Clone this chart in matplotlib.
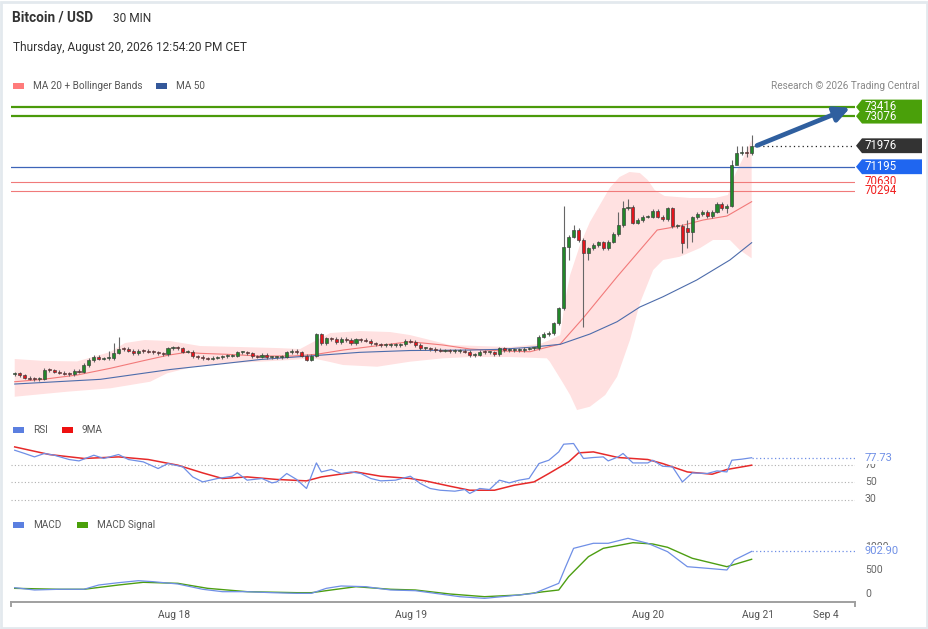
import matplotlib
matplotlib.use("Agg")
import matplotlib.pyplot as plt
import numpy as np
from matplotlib.patches import Rectangle, Polygon
from matplotlib.transforms import blended_transform_factory

plt.rcParams['font.family'] = ['Roboto', 'DejaVu Sans']

# ---------------- data ----------------
closes = [63517, 63443, 63354, 63317, 63294, 63317, 63640, 63629, 63577, 63540,
          63502, 63480, 63603, 63577, 63826, 64012, 64134, 64060, 64075, 64075,
          64283, 64432, 64421, 64357, 64261, 64357, 64346, 64320, 64298, 64261,
          64235, 64447, 64469, 64447, 64320, 64320, 64149, 64123, 64075, 64060,
          64097, 64112, 64149, 64172, 64172, 64298, 64298, 64261, 64149, 64134,
          64198, 64112, 64112, 64112, 64134, 64298, 64346, 64298, 64172, 64023,
          64172, 64967, 64633, 64818, 64792, 64670, 64792, 64755, 64644, 64781,
          64755, 64729, 64633, 64595, 64569, 64569, 64569, 64569, 64595, 64718,
          64692, 64569, 64447, 64447, 64421, 64383, 64357, 64357, 64346, 64346,
          64346, 64320, 64198, 64209, 64320, 64298, 64298, 64224, 64447, 64383,
          64383, 64383, 64383, 64432, 64447, 64447, 64878, 64978, 65020, 65376,
          65933, 68201, 68595, 68844, 68472, 67978, 68164, 68286, 68387, 68164,
          68409, 68695, 69030, 69651, 69710, 69115, 69216, 69338, 69338, 69561,
          69338, 69242, 69651, 68993, 68993, 68349, 68781, 69316, 69439, 69524,
          69364, 69524, 69810, 69651, 69747, 71260, 71695, 71754, 71706, 71976]
first_open = 63480
open_overrides = {136: 68907}
wick_high = {19: 64361, 20: 64640, 21: 64850, 111: 69747, 113: 69030, 122: 69524,
             123: 69936, 124: 69985, 136: 69216, 145: 71450, 146: 71980,
             147: 71980, 148: 71980, 149: 72375}
wick_low = {112: 67730, 115: 65250, 116: 67729, 135: 67978, 136: 68178,
            137: 68386, 144: 69465, 146: 71447, 148: 71569, 149: 71632}
default_wick = 60

ma20_idx = [0, 5.7, 12.6, 19.3, 26, 31.2, 34.8, 37.5, 42.9, 49.6, 56.3, 61.1, 66.4,
            73.3, 79.9, 86.6, 92.1, 98.7, 104.2, 106.8, 110.3, 114.9, 121.8, 129.9,
            134.5, 139.2, 144.0, 149]
ma20_val = [63205, 63294, 63454, 63703, 63986, 64198, 64298, 64261, 64224, 64161,
            64161, 64227, 64383, 64543, 64692, 64569, 64421, 64346, 64320, 64447,
            64607, 65562, 67108, 68844, 68993, 69216, 69364, 69896]

upper_idx = [0, 5.7, 12.6, 19.3, 22.3, 26.3, 31.4, 37.5, 45.6, 53.0, 57.7, 61.1, 63.8,
             69.8, 75.9, 79.9, 84.0, 88.0, 94.1, 100.1, 106.2, 108.2, 110.3, 111.3,
             112.3, 114.3, 116.3, 118.3, 120.3, 122.3, 124.3, 126.4, 128, 129.4,
             131.4, 136.5, 141.6, 144.2, 145.6, 147.6, 149]
upper_val = [64050, 63980, 63960, 64309, 64644, 64755, 64718, 64532, 64495, 64458,
             64421, 64755, 65015, 65090, 65052, 64941, 64755, 64569, 64532, 64495,
             64607, 64755, 64940, 66242, 67171, 68286, 69141, 69773, 70405, 70814,
             71000, 70963, 70702, 70331, 70108, 70034, 70034, 70145, 70889, 71633,
             72190]

lower_idx = [0, 10.6, 19.3, 27.4, 30.8, 36.1, 43.5, 49.6, 55.7, 60.3, 63.8, 66.4, 73.3,
             79.9, 86.6, 92.1, 100.1, 107.6, 108.2, 110.9, 112.3, 113.7, 116.3, 119.4,
             121.8, 124.4, 126.4, 129.1, 131.1, 134.5, 138.6, 141.2, 144.6, 146.6, 149]
lower_val = [62648, 62834, 62960, 63205, 63517, 63763, 63900, 63949, 64012, 64075,
             63938, 63826, 63763, 63949, 64075, 64123, 64123, 64075, 63949, 63146,
             62711, 62153, 62276, 62711, 63391, 64755, 66119, 67357, 67729, 67852,
             68176, 68474, 68474, 68102, 67793]

ma50_idx = [0, 17.3, 31.4, 41.5, 49.6, 60.3, 69.8, 79.9, 92.1, 98.1, 104.2, 110.3,
            116.3, 121.8, 126.4, 131.1, 137.9, 144.6, 149]
ma50_val = [63120, 63294, 63659, 63863, 64030, 64172, 64298, 64365, 64383, 64409,
            64484, 64595, 64978, 65436, 65982, 66365, 66986, 67729, 68372]

levels_green = [73416, 73076]
level_blue = 71195
levels_red = [70630, 70294]
last_price = 71976

rsi_idx = [0, 2, 4, 6, 8, 11, 13, 16, 18, 21, 23, 26, 29, 31, 34, 36, 38, 41, 44, 45,
           47, 50, 52, 53, 55, 57, 59, 61, 62, 64, 66, 68, 70, 72, 74, 77, 80, 82, 84,
           86, 89, 91, 92, 94, 96, 98, 100, 102, 104, 106, 108, 110, 111, 113, 115,
           117, 119, 120, 122, 123, 125, 128, 129, 131, 133, 135, 137, 140, 142, 144,
           145, 147, 149]
rsi_val = [86.3, 82.6, 78.7, 82.6, 80.6, 75.7, 74.1, 80.6, 76.9, 81.4, 75.7, 73.0,
           65.4, 71.1, 67.3, 55.8, 50.1, 54.0, 56.6, 60.4, 52.1, 54.0, 49.0, 50.1,
           59.7, 52.9, 42.6, 71.8, 61.5, 64.3, 59.7, 61.5, 59.7, 54.0, 51.3, 52.1,
           56.6, 48.3, 42.6, 40.6, 39.5, 41.4, 36.9, 42.6, 41.4, 52.1, 49.0, 52.1,
           54.0, 71.1, 74.9, 84.4, 93.2, 94.0, 76.9, 78.0, 78.7, 74.1, 78.7, 82.6,
           71.8, 71.8, 74.9, 68.0, 67.3, 50.1, 60.4, 59.7, 62.7, 61.5, 74.9, 76.1,
           77.73]
rsi_ma_idx = [0, 7, 14, 21, 27, 33, 38, 42, 47, 53, 59, 62, 69, 74, 80, 83, 88, 92, 97,
              101, 105, 108, 112, 114, 117, 122, 128, 131, 136, 141, 144, 149]
rsi_ma_val = [90.1, 81.4, 76.9, 78.7, 75.7, 69.2, 60.4, 54.0, 55.8, 52.9, 51.3, 55.8,
              61.5, 56.6, 54.0, 51.3, 45.2, 40.6, 40.6, 46.3, 50.1, 59.7, 73.0, 83.3,
              84.4, 78.0, 75.7, 71.1, 61.5, 58.9, 64.3, 69.2]
rsi_levels = [70, 50, 30]

macd_idx = [0, 4, 9, 14, 17, 21, 25, 28, 33, 38, 42, 47, 52, 57, 60, 63, 66, 71, 76,
            81, 86, 90, 95, 100, 105, 110, 111.4, 113, 117, 120, 124, 128, 132, 136,
            140, 144, 145.5, 149]
macd_val = [134, 85, 100, 100, 191, 240, 282, 261, 212, 100, 49, 49, 28, 14, 14, 120,
            170, 155, 85, 70, 0, -57, -92, -42, 14, 226, 579, 968, 1075, 1075, 1181,
            1075, 897, 579, 545, 509, 721, 902.90]
sig_idx = [0, 9, 14, 21, 26, 33, 39, 47, 57, 60, 64, 69, 76, 81, 88, 95, 102, 107, 110,
           112, 116, 119, 125, 129, 132, 137, 144, 149]
sig_val = [120, 100, 100, 191, 248, 226, 120, 49, 28, 28, 85, 155, 100, 85, 0, -57, -21,
           49, 85, 367, 791, 968, 1088, 1060, 990, 757, 579, 736]
macd_ticks = [1000, 500, 0]

tick_pos = [32.2, 80.1, 128.0, 150.3, 164.0]
tick_labels = ['Aug 18', 'Aug 19', 'Aug 20', 'Aug 21', 'Sep 4']

# ---------------- layout ----------------
W, H = 929, 629
fig = plt.figure(figsize=(W / 100, H / 100), dpi=100)
fig.patch.set_facecolor('white')

AX_L, AX_R = 10.7, 855.0
XLIM = (-0.81, 169.9)


def add_px_axes(top, bottom):
    return fig.add_axes([AX_L / W, 1 - bottom / H, (AX_R - AX_L) / W, (bottom - top) / H])


def fx(px):
    return px / W


def fy(py):
    return 1 - py / H


def axfrac(px):
    return (px - AX_L) / (AX_R - AX_L)


def clean(ax):
    for s in ax.spines.values():
        s.set_visible(False)
    ax.set_xticks([])
    ax.set_yticks([])
    ax.set_xlim(*XLIM)
    ax.patch.set_alpha(0)


# frame
fig.add_artist(Rectangle((0.001, 0.001), 0.997, 0.996, transform=fig.transFigure,
                         fill=False, edgecolor='#e3e9ee', lw=2))

# header texts
fig.text(fx(12), fy(18), 'Bitcoin / USD', fontsize=9.8, fontweight='bold', color='#333333',
         va='center', ha='left')
fig.text(fx(113), fy(18), '30 MIN', fontsize=8.6, color='#333333', va='center', ha='left')
fig.text(fx(13), fy(48), 'Thursday, August 20, 2026 12:54:20 PM CET', fontsize=8.6,
         color='#333333', va='center', ha='left')


def legend_item(x0, y, color, label, w=11, h=6):
    fig.add_artist(Rectangle((fx(x0), fy(y + h / 2)), w / W, h / H, transform=fig.transFigure,
                             facecolor=color, edgecolor='none'))
    fig.text(fx(x0 + w + 9), fy(y), label, fontsize=7.2, color='#555555', va='center',
             ha='left')


legend_item(13, 86, '#ff7b7b', 'MA 20 + Bollinger Bands')
legend_item(156, 86, '#34589a', 'MA 50')
fig.text(fx(920), fy(86), 'Research \u00a9 2026 Trading Central', fontsize=7.2,
         color='#888888', va='center', ha='right')

# ---------------- main price pane ----------------
ax = add_px_axes(98, 415)
clean(ax)
slope = (73416 - 70294) / (191 - 107)
ax.set_ylim(73416 - slope * (415 - 107), 73416 - slope * (98 - 107))

ax.fill(np.concatenate([upper_idx, lower_idx[::-1]]),
        np.concatenate([upper_val, lower_val[::-1]]),
        color='#ffe1e1', lw=0, zorder=1)
ax.plot(ma20_idx, ma20_val, color='#f27a7a', lw=0.8, zorder=2)
ax.plot(ma50_idx, ma50_val, color='#4d6cab', lw=0.8, zorder=2)

for lv in levels_green:
    ax.axhline(lv, color='#4a9a0a', lw=1.6, zorder=3)
ax.axhline(level_blue, color='#3d64b8', lw=0.9, zorder=3)
for lv in levels_red:
    ax.axhline(lv, color='#f07a7a', lw=0.8, zorder=3)

n = len(closes)
idx = np.arange(n)
opens = [first_open] + closes[:-1]
opens = [open_overrides.get(i, o) for i, o in enumerate(opens)]
highs = [wick_high.get(i, max(o, c) + default_wick) for i, (o, c) in enumerate(zip(opens, closes))]
lows = [wick_low.get(i, min(o, c) - default_wick) for i, (o, c) in enumerate(zip(opens, closes))]
up = [c >= o for o, c in zip(opens, closes)]
ax.vlines(idx, lows, highs, color='#666666', lw=0.8, zorder=4)
bottoms = [min(o, c) for o, c in zip(opens, closes)]
heights = [max(abs(c - o), 35) for o, c in zip(opens, closes)]
colors = ['#22872a' if u else '#e3141c' for u in up]
ax.bar(idx, heights, bottom=bottoms, width=0.62, color=colors, edgecolor='#3c3c3c',
       linewidth=0.45, zorder=5)

# dotted line from last candle to the label
ax.plot([n - 0.5, XLIM[1]], [last_price, last_price], color='#222222', lw=0.9,
        ls=(0, (1, 2.5)), zorder=3)

# trend arrow
ax.annotate('', xy=(168.9, levels_green[0] - 30), xytext=(n + 0.1, last_price + 10),
            arrowprops=dict(arrowstyle='-|>,head_length=0.9,head_width=0.45',
                            color='#2f5f9f', lw=3.4, shrinkA=0, shrinkB=0), zorder=6)

# right-hand tags
tr = blended_transform_factory(ax.transAxes, ax.transData)
hh = 7.4 * slope


def tag(y, text, color):
    pts = [(axfrac(856), y), (axfrac(862), y + hh), (axfrac(922), y + hh),
           (axfrac(922), y - hh), (axfrac(862), y - hh)]
    ax.add_patch(Polygon(pts, closed=True, transform=tr, facecolor=color, edgecolor='none',
                         clip_on=False, zorder=7))
    ax.text(axfrac(865), y, text, transform=tr, color='white', fontsize=8.3, va='center',
            ha='left', clip_on=False, zorder=8)


tag(levels_green[1], str(levels_green[1]), '#4aa00a')
tag(levels_green[0], str(levels_green[0]), '#4aa00a')
tag(last_price, str(last_price), '#333333')
tag(level_blue, str(level_blue), '#1f66f0')
for lv in levels_red:
    ax.text(axfrac(865), lv, str(lv), transform=tr, color='#f02020', fontsize=8.3,
            va='center', ha='left', clip_on=False, zorder=8,
            bbox=dict(boxstyle='square,pad=0.05', facecolor='white', edgecolor='none'))

# ---------------- RSI pane ----------------
rax = add_px_axes(440, 505)
clean(rax)
rs = 0.875
rax.set_ylim(70 - (505 - 464.5) / rs, 70 + (464.5 - 440) / rs)
for lv in rsi_levels:
    rax.axhline(lv, color='#b0b0b0', lw=0.8, ls=(0, (1, 2)), zorder=1)
rax.plot(rsi_idx, rsi_val, color='#6f8fe6', lw=0.9, zorder=3)
rax.plot(rsi_ma_idx, rsi_ma_val, color='#e62a2a', lw=1.1, zorder=2)
rax.plot([rsi_idx[-1], XLIM[1]], [rsi_val[-1], rsi_val[-1]], color='#6f8fe6', lw=0.9,
         ls=(0, (1, 2)), zorder=2)
rtr = blended_transform_factory(rax.transAxes, rax.transData)
for lv in rsi_levels:
    rax.text(axfrac(865), lv, str(lv), transform=rtr, color='#666666', fontsize=7.6,
             va='center', ha='left', clip_on=False)
rax.text(axfrac(865), rsi_val[-1], f'{rsi_val[-1]:.2f}', transform=rtr, color='#6f8fe6',
         fontsize=8, va='center', ha='left', clip_on=False,
         bbox=dict(boxstyle='square,pad=0.1', facecolor='white', edgecolor='none'))
legend_item(13, 430, '#5b7fe0', 'RSI')
legend_item(62, 430, '#ee1111', '9MA')

# ---------------- MACD pane ----------------
max_ = add_px_axes(535, 601.7)
clean(max_)
ms = 21.2
max_.set_ylim(-(601.7 - 594) * ms, (594 - 535) * ms)
max_.plot(sig_idx, sig_val, color='#4d9e12', lw=1.0, zorder=2)
max_.plot(macd_idx, macd_val, color='#6f8fe6', lw=0.9, zorder=3)
max_.plot([macd_idx[-1], XLIM[1]], [macd_val[-1], macd_val[-1]], color='#6f8fe6', lw=0.9,
          ls=(0, (1, 2)), zorder=2)
mtr = blended_transform_factory(max_.transAxes, max_.transData)
for lv in macd_ticks:
    max_.text(axfrac(865), lv, str(lv), transform=mtr, color='#666666', fontsize=7.6,
              va='center', ha='left', clip_on=False)
max_.text(axfrac(865), macd_val[-1], f'{macd_val[-1]:.2f}', transform=mtr, color='#6f8fe6',
          fontsize=8, va='center', ha='left', clip_on=False,
          bbox=dict(boxstyle='square,pad=0.1', facecolor='white', edgecolor='none'))
legend_item(13, 525, '#5b7fe0', 'MACD')
legend_item(77, 525, '#4aa00a', 'MACD Signal')

# x axis
max_.spines['bottom'].set_visible(True)
max_.spines['bottom'].set_color('#a0a0a0')
max_.spines['bottom'].set_linewidth(1.4)
max_.set_xticks(tick_pos)
max_.set_xticklabels(tick_labels, fontsize=7.4, color='#555555')
max_.tick_params(axis='x', length=0, pad=6)
for xe in XLIM:
    max_.plot([xe, xe], [-(601.7 - 594) * ms, -(601.7 - 594) * ms - 4 * ms], color='#a0a0a0',
              lw=1.4, clip_on=False)

fig.savefig('out.png', dpi=100, facecolor='white')
